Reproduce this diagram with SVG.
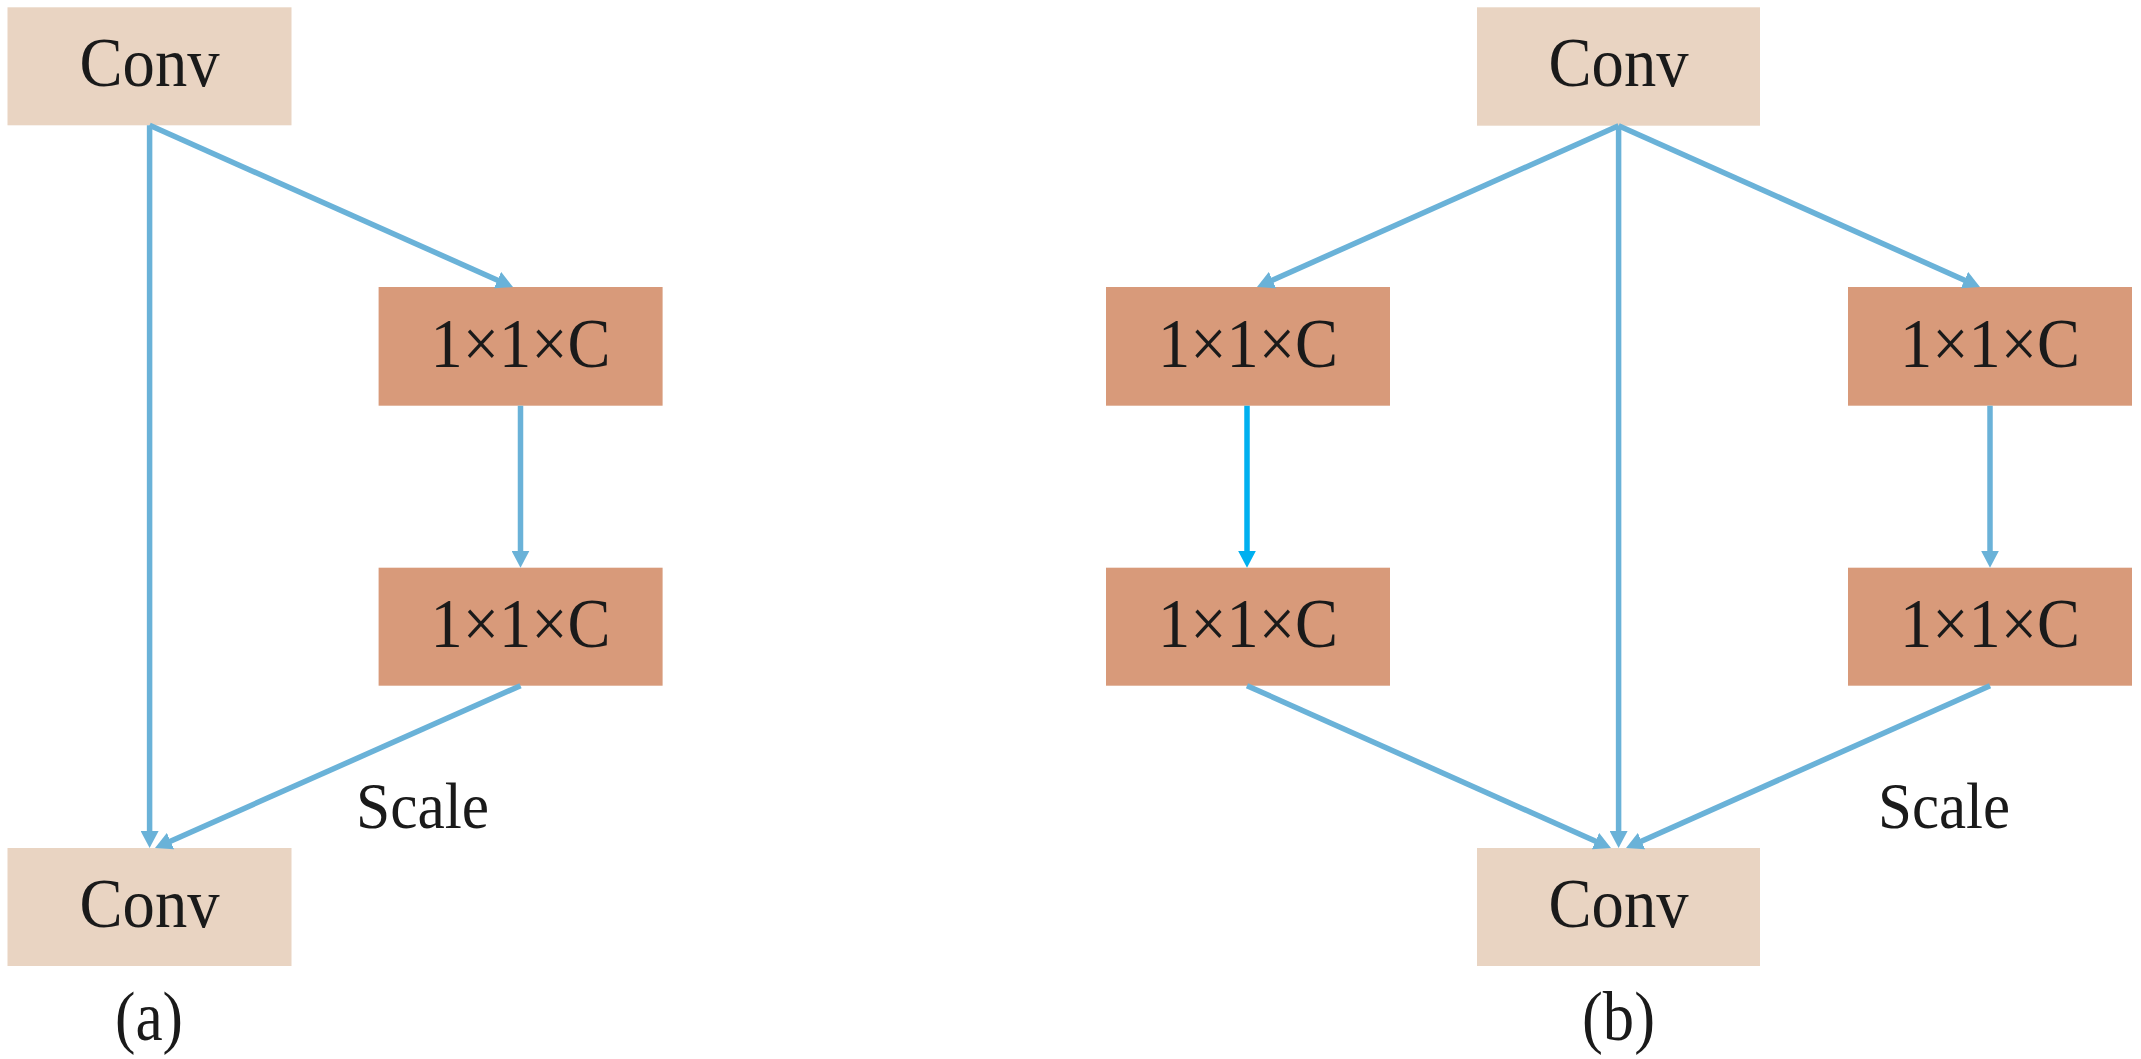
<svg xmlns="http://www.w3.org/2000/svg" width="2141" height="1059" viewBox="0 0 2141 1059">
<style>
.light{fill:#E9D4C2}
.dark{fill:#D89A7A}
.t{font-family:"Liberation Serif","Times New Roman",serif;font-size:70px;fill:#1a1a1a;text-anchor:middle}
.s{font-family:"Liberation Serif","Times New Roman",serif;font-size:65px;fill:#1a1a1a;text-anchor:middle}
.c{stroke:#6AB2D8;stroke-width:5.5;fill:none;marker-end:url(#ah)}
.cy{stroke:#00B0F0;stroke-width:5.5;fill:none;marker-end:url(#ahc)}
</style>
<defs>
<marker id="ah" markerUnits="userSpaceOnUse" markerWidth="18" markerHeight="18" refX="10" refY="9" orient="auto" viewBox="0 0 18 18">
<path d="M0,0 L17,9 L0,18 z" fill="#6AB2D8"/>
</marker>
<marker id="ahc" markerUnits="userSpaceOnUse" markerWidth="18" markerHeight="18" refX="10" refY="9" orient="auto" viewBox="0 0 18 18">
<path d="M0,0 L17,9 L0,18 z" fill="#00B0F0"/>
</marker>
</defs>
<rect width="2141" height="1059" fill="#ffffff"/>
<g id="a-conv-top"><rect class="light" x="7.5" y="7.3" width="284" height="118"/><text class="t" x="149.5" y="86" textLength="140" lengthAdjust="spacingAndGlyphs">Conv</text></g>
<g id="a-box1"><rect class="dark" x="378.6" y="287" width="284" height="118.7"/><text class="t" x="520.5" y="367" textLength="180" lengthAdjust="spacingAndGlyphs">1×1×C</text></g>
<g id="a-box2"><rect class="dark" x="378.6" y="567.7" width="284" height="118"/><text class="t" x="520.5" y="647" textLength="180" lengthAdjust="spacingAndGlyphs">1×1×C</text></g>
<g id="a-conv-bottom"><rect class="light" x="7.5" y="848" width="284" height="118"/><text class="t" x="149.5" y="927" textLength="140" lengthAdjust="spacingAndGlyphs">Conv</text></g>
<g id="a-scale"><text class="s" x="422.5" y="828" textLength="133" lengthAdjust="spacingAndGlyphs">Scale</text></g>
<g id="a-label"><text class="t" x="149" y="1040" textLength="68" lengthAdjust="spacingAndGlyphs">(a)</text></g>
<g id="b-conv-top"><rect class="light" x="1477" y="7.3" width="283" height="118.4"/><text class="t" x="1618.5" y="86" textLength="140" lengthAdjust="spacingAndGlyphs">Conv</text></g>
<g id="b-left1"><rect class="dark" x="1106" y="287" width="284" height="118.7"/><text class="t" x="1248" y="367" textLength="180" lengthAdjust="spacingAndGlyphs">1×1×C</text></g>
<g id="b-left2"><rect class="dark" x="1106" y="567.7" width="284" height="118"/><text class="t" x="1248" y="647" textLength="180" lengthAdjust="spacingAndGlyphs">1×1×C</text></g>
<g id="b-right1"><rect class="dark" x="1848" y="287" width="284" height="118.7"/><text class="t" x="1990" y="367" textLength="180" lengthAdjust="spacingAndGlyphs">1×1×C</text></g>
<g id="b-right2"><rect class="dark" x="1848" y="567.7" width="284" height="118"/><text class="t" x="1990" y="647" textLength="180" lengthAdjust="spacingAndGlyphs">1×1×C</text></g>
<g id="b-conv-bottom"><rect class="light" x="1477" y="848" width="283" height="118"/><text class="t" x="1618.5" y="927" textLength="140" lengthAdjust="spacingAndGlyphs">Conv</text></g>
<g id="b-scale"><text class="s" x="1944" y="828" textLength="132" lengthAdjust="spacingAndGlyphs">Scale</text></g>
<g id="b-label"><text class="t" x="1618.5" y="1040" textLength="73" lengthAdjust="spacingAndGlyphs">(b)</text></g>
<g id="connectors">
<line class="c" x1="149.6" y1="125.3" x2="149.6" y2="841"/>
<line class="c" x1="149.6" y1="125.3" x2="506.6" y2="284.2"/>
<line class="c" x1="520.5" y1="405.7" x2="520.5" y2="560.7"/>
<line class="c" x1="520.5" y1="685.7" x2="161.4" y2="845.2"/>
<line class="c" x1="1618.6" y1="125.7" x2="1263.4" y2="284.2"/>
<line class="c" x1="1618.6" y1="125.7" x2="1618.6" y2="841"/>
<line class="c" x1="1618.6" y1="125.7" x2="1973.6" y2="284.2"/>
<line class="cy" x1="1247" y1="405.7" x2="1247" y2="560.7"/>
<line class="c" x1="1990" y1="405.7" x2="1990" y2="560.7"/>
<line class="c" x1="1247" y1="685.7" x2="1604.6" y2="845.2"/>
<line class="c" x1="1990" y1="685.7" x2="1632.4" y2="845.2"/>
</g>
</svg>
